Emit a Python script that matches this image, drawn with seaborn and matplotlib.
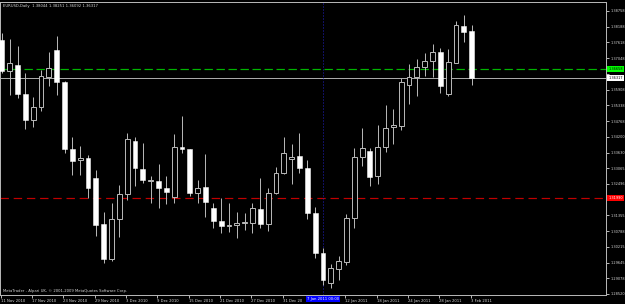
import matplotlib
matplotlib.use("Agg")
import matplotlib.pyplot as plt
import matplotlib.transforms as mtransforms
import numpy as np
import pandas as pd
import seaborn as sns

# ---------------- data ----------------
dates = pd.bdate_range("2010-11-11", "2011-02-03")

opens = [1.3771, 1.3659, 1.3680, 1.3575, 1.3481, 1.3528, 1.3637, 1.3735, 1.3619, 1.3376,
         1.3336, 1.3344, 1.3271, 1.3105, 1.2978, 1.3123, 1.3213, 1.3405, 1.3304, 1.3260,
         1.3260, 1.3235, 1.3203, 1.3384, 1.3376, 1.3217, 1.3239, 1.3163, 1.3116, 1.3098,
         1.3101, 1.3108, 1.3108, 1.3159, 1.3105, 1.3217, 1.3289, 1.3340, 1.3351, 1.3307,
         1.3145, 1.3000, 1.2891, 1.2942, 1.2967, 1.3126, 1.3347, 1.3369, 1.3279, 1.3384,
         1.3456, 1.3460, 1.3608, 1.3637, 1.3673, 1.3695, 1.3727, 1.3575, 1.3688, 1.3822,
         1.38044]
highs = [1.3796, 1.3774, 1.3749, 1.3651, 1.3565, 1.3662, 1.3727, 1.3785, 1.3621, 1.3420,
         1.3387, 1.3355, 1.3300, 1.3148, 1.3181, 1.3246, 1.3434, 1.3420, 1.3398, 1.3279,
         1.3322, 1.3279, 1.3431, 1.3496, 1.3378, 1.3264, 1.3358, 1.3181, 1.3199, 1.3181,
         1.3148, 1.3145, 1.3181, 1.3271, 1.3235, 1.3311, 1.3420, 1.3394, 1.3434, 1.3336,
         1.3166, 1.3018, 1.2960, 1.2989, 1.3141, 1.3380, 1.3452, 1.3380, 1.3463, 1.3536,
         1.3521, 1.3633, 1.3684, 1.3702, 1.3724, 1.3756, 1.3742, 1.3738, 1.3840, 1.3861,
         1.38251]
lows = [1.3651, 1.3572, 1.3561, 1.3449, 1.3456, 1.3514, 1.3604, 1.3572, 1.3362, 1.3282,
        1.3282, 1.3199, 1.3061, 1.2964, 1.2971, 1.3058, 1.3192, 1.3242, 1.3253, 1.3181,
        1.3163, 1.3177, 1.3181, 1.3362, 1.3206, 1.3181, 1.3130, 1.3090, 1.3072, 1.3076,
        1.3054, 1.3083, 1.3072, 1.3090, 1.3079, 1.3213, 1.3286, 1.3250, 1.3289, 1.3123,
        1.2982, 1.2884, 1.2873, 1.2902, 1.2956, 1.3090, 1.3315, 1.3242, 1.3250, 1.3365,
        1.3394, 1.3445, 1.3539, 1.3568, 1.3641, 1.3637, 1.3579, 1.3568, 1.3688, 1.3764,
        1.36092]
closes = [1.3659, 1.3688, 1.3575, 1.3481, 1.3528, 1.3641, 1.3669, 1.3619, 1.3376, 1.3333,
          1.3344, 1.3235, 1.3101, 1.2978, 1.3123, 1.3213, 1.3412, 1.3307, 1.3264, 1.3264,
          1.3235, 1.3221, 1.3384, 1.3376, 1.3217, 1.3235, 1.3184, 1.3116, 1.3098, 1.3101,
          1.3108, 1.3112, 1.3163, 1.3105, 1.3217, 1.3289, 1.3362, 1.3347, 1.3307, 1.3145,
          1.3000, 1.2902, 1.2945, 1.2971, 1.3126, 1.3347, 1.3380, 1.3275, 1.3384, 1.3452,
          1.3463, 1.3619, 1.3637, 1.3673, 1.3695, 1.3727, 1.3604, 1.3691, 1.3825, 1.3800,
          1.36317]

price_ticks = [1.38758, 1.38188, 1.37618, 1.37048, 1.36478, 1.35908, 1.35338, 1.34768,
               1.34200, 1.33630, 1.33065, 1.32496, 1.31925, 1.31355, 1.30788, 1.30215,
               1.29645, 1.29078, 1.28520]
price_tick_labels = ["1.38758", "1.38188", "1.37618", "1.37048", "", "1.35908", "1.35338",
                     "1.34768", "1.34200", "1.33630", "1.33065", "1.32496", "", "1.31355",
                     "1.30788", "1.30215", "1.29645", "1.29078", "1.28520"]
date_tick_bars = [0, 4, 8, 12, 16, 20, 24, 28, 32, 36, 40, 44, 48, 52, 56, 60]
date_tick_labels = ["11 Nov 2010", "17 Nov 2010", "23 Nov 2010", "29 Nov 2010", "3 Dec 2010",
                    "9 Dec 2010", "15 Dec 2010", "21 Dec 2010", "27 Dec 2010", "31 Dec 20",
                    "", "12 Jan 2011", "18 Jan 2011", "24 Jan 2011", "28 Jan 2011",
                    "3 Feb 2011"]

green_level = 1.36658
red_level = 1.31990
vline_bar = 41
vline_label = "7 Jan 2011 00:00"
header = "EURUSD,Daily  1.38044 1.38251 1.36092 1.36317"
footer = "MetaTrader - Alpari UK, \u00a9 2001-2009 MetaQuotes Software Corp."

df = pd.DataFrame({"date": dates, "open": opens, "high": highs, "low": lows, "close": closes})
df["pos"] = np.arange(len(df))
df["bull"] = df["close"] >= df["open"]

# ---------------- style ----------------
sns.set_theme(style="dark")
plt.rcParams["font.family"] = ["DejaVu Sans"]
FS = 2.7
FSY = 2.5
GRAY = "#b4b4b4"
TXT = "#d8d8d8"
PX = 0.72  # one pixel in points at dpi 100

fig = plt.figure(figsize=(6.25, 3.04), dpi=100, facecolor="black")
ax = fig.add_axes([0 / 625, (304 - 295) / 304, 606 / 625, (295 - 1.7) / 304])
ax.set_facecolor("black")

# wicks
ax.vlines(df["pos"], df["low"], df["high"], color=GRAY, lw=PX, zorder=2)

# bodies
w = 0.62
bull = df[df["bull"]]
bear = df[~df["bull"]]
ax.bar(bull["pos"], (bull["close"] - bull["open"]).clip(lower=0.00002), bottom=bull["open"],
       width=w, facecolor="black", edgecolor=GRAY, linewidth=PX, zorder=3)
ax.bar(bear["pos"], bear["open"] - bear["close"], bottom=bear["close"],
       width=w, facecolor="white", edgecolor="white", linewidth=PX * 0.5, zorder=3)

# horizontal / vertical lines
ax.axhline(green_level, color="#00b400", lw=PX * 1.2, dashes=(7, 3), zorder=1)
ax.axhline(closes[-1], color="#a8a8a8", lw=PX, zorder=1)
ax.axhline(red_level, color="#c00000", lw=PX * 1.2, dashes=(7, 4), zorder=1)
ax.axvline(vline_bar, color="#2020c0", lw=PX, ls=(0, (1, 2)), zorder=1)

# limits
ax.set_xlim(-0.243, 77.15)
ax.set_ylim(1.28477, 1.39094)

# spines
for s in ax.spines.values():
    s.set_color(GRAY)
    s.set_linewidth(PX)
    s.set_visible(True)

# y axis on right
ax.yaxis.tick_right()
ax.set_yticks(price_ticks)
ax.set_yticklabels(price_tick_labels)
ax.tick_params(axis="y", which="both", direction="out", length=3 * PX, width=PX,
               color=GRAY, labelcolor=TXT, labelsize=FSY, pad=0.8, right=True, left=False)

# x axis
ax.set_xticks([b - 0.15 for b in date_tick_bars])
ax.set_xticklabels(date_tick_labels, ha="left")
ax.tick_params(axis="x", which="both", direction="out", length=3 * PX, width=PX,
               color=GRAY, labelcolor=TXT, labelsize=FS, pad=1.0, bottom=True)
ax.grid(False)
ax.set_xlabel("")
ax.set_ylabel("")

# price labels on the right scale
trans = mtransforms.blended_transform_factory(ax.transAxes, ax.transData)
box_kw = dict(transform=trans, ha="left", va="center", fontsize=FSY, clip_on=False, zorder=10)
ax.text(1.004, green_level, f"{green_level:.5f}", color="black",
        bbox=dict(boxstyle="square,pad=0.3", fc="#00ff00", ec="none"), **box_kw)
ax.text(1.004, closes[-1], f"{closes[-1]:.5f}", color="black",
        bbox=dict(boxstyle="square,pad=0.3", fc="white", ec="none"), **box_kw)
ax.text(1.004, red_level, f"{red_level:.5f}", color="white",
        bbox=dict(boxstyle="square,pad=0.3", fc="#ff0000", ec="none"), **box_kw)

# vertical line date label on the time scale
transx = mtransforms.blended_transform_factory(ax.transData, fig.transFigure)
ax.text(vline_bar, 1 - 299 / 304, vline_label, transform=transx, ha="center", va="center",
        fontsize=FS, color="white", clip_on=False, zorder=10,
        bbox=dict(boxstyle="square,pad=0.3", fc="#0000ff", ec="none"))

# header and footer
fig.text(3 / 625, 1 - 6 / 304, header, fontsize=FS, color=TXT, ha="left", va="center")
fig.text(3 / 625, 1 - 291 / 304, footer, fontsize=FS, color=TXT, ha="left", va="center")

fig.savefig("out.png", dpi=100, facecolor="black")
